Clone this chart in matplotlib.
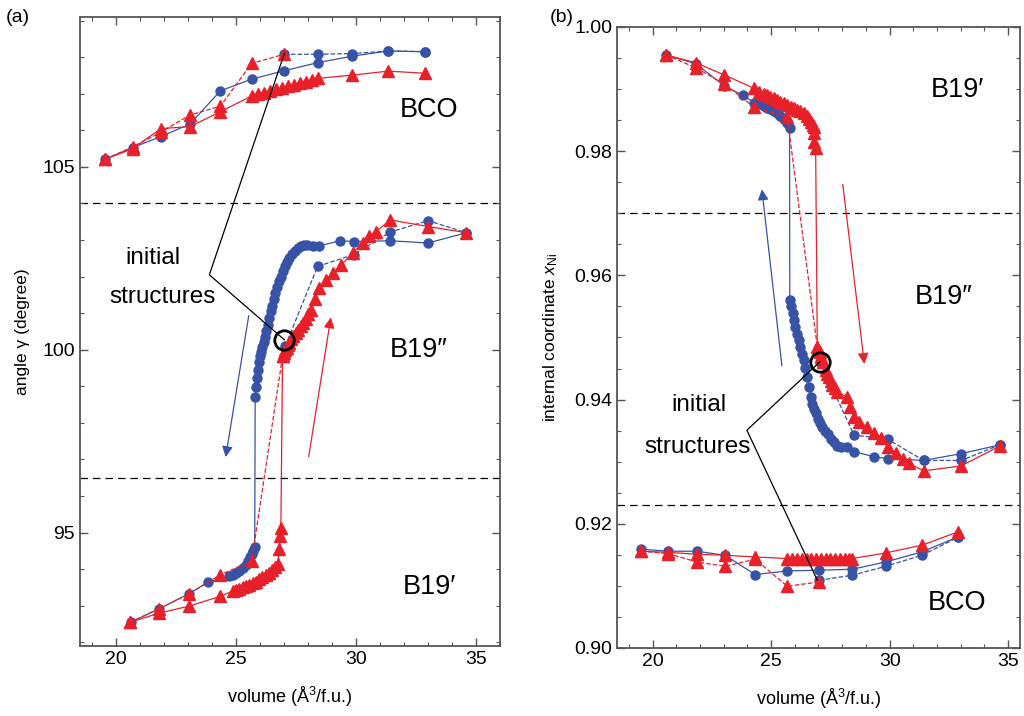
import numpy as np
import matplotlib.pyplot as plt
from matplotlib.ticker import MultipleLocator

plt.rcParams['font.family'] = ['Liberation Sans', 'DejaVu Sans']
plt.rcParams['mathtext.fontset'] = 'custom'
plt.rcParams['mathtext.rm'] = 'Liberation Sans'
plt.rcParams['mathtext.it'] = 'Liberation Sans:italic'

BLUE = '#3753a6'
RED = '#e8202a'

# ---------------- panel (a): angle gamma ----------------
# BCO branch
a_bco_blue_x = [19.55, 20.7, 21.87, 23.08, 24.35, 25.65, 27.01, 28.4, 29.85, 31.35, 32.87]
a_bco_blue_y = [105.21, 105.53, 105.83, 106.17, 107.08, 107.4, 107.63, 107.85, 108.03, 108.17, 108.15]
a_bco_blue_dash_x = [27.01, 28.4, 29.85, 31.35, 32.87]
a_bco_blue_dash_y = [108.08, 108.08, 108.1, 108.17, 108.15]
a_bco_red_dash_x = [19.55, 20.7, 21.87, 23.08, 24.35, 25.65, 27.01]
a_bco_red_dash_y = [105.21, 105.55, 105.95, 106.42, 106.66, 107.83, 108.08]
a_bco_red_x = [19.55, 20.7, 21.87, 23.08, 24.35, 25.65, 25.9, 26.15, 26.4, 26.65, 26.9,
               27.15, 27.4, 27.65, 27.9, 28.15, 28.4, 29.85, 31.35, 32.87]
a_bco_red_y = [105.21, 105.5, 106.05, 106.1, 106.51, 106.94, 106.98, 107.03, 107.07, 107.12, 107.16,
               107.2, 107.25, 107.29, 107.33, 107.38, 107.42, 107.51, 107.62, 107.56]

# B19' -> B19'' branch, compression (blue)
a_blue_x = [20.62, 21.8, 23.05, 23.82, 24.72, 24.86, 25.0, 25.14, 25.28, 25.4, 25.49, 25.58,
            25.66, 25.72, 25.78,
            25.80, 25.84, 25.88, 25.92, 25.96, 26.00, 26.05, 26.10, 26.15, 26.20, 26.26, 26.32,
            26.38, 26.44, 26.50, 26.57, 26.64, 26.71, 26.78, 26.86, 26.94, 27.03, 27.12, 27.22,
            27.33, 27.45, 27.58, 27.72, 27.85, 27.95, 28.19, 28.47, 29.33, 29.9, 31.43, 33.0, 34.6]
a_blue_y = [92.55, 92.92, 93.33, 93.64, 93.81, 93.85, 93.9, 93.96, 94.04, 94.12, 94.22, 94.32,
            94.42, 94.5, 94.6,
            98.72, 98.98, 99.22, 99.45, 99.66, 99.83, 99.95, 100.08, 100.21, 100.34, 100.5, 100.67,
            100.87, 101.05, 101.21, 101.39, 101.55, 101.71, 101.87, 102.0, 102.14, 102.29, 102.41, 102.52,
            102.62, 102.71, 102.78, 102.83, 102.86, 102.87, 102.84, 102.84, 102.98, 102.96, 102.98, 102.92, 103.2]
a_blue_dash_x = [27.05, 28.4, 29.9, 31.43, 33.0, 34.6]
a_blue_dash_y = [100.1, 102.28, 102.6, 103.22, 103.53, 103.2]

# expansion (red)
a_red_x = [20.6, 21.8, 23.05, 24.35, 24.86, 25.0, 25.14, 25.28, 25.42, 25.56, 25.7, 25.84, 25.97,
           26.1, 26.24, 26.39, 26.52, 26.64, 26.74, 26.8, 26.85, 26.87,
           26.94, 27.0, 27.06, 27.12, 27.18, 27.22, 27.3, 27.38, 27.5, 27.6, 27.7, 27.78, 27.9,
           28.02, 28.13, 28.3, 28.47, 28.75, 29.03, 29.38, 29.86, 30.28, 30.55, 30.83, 31.43, 33.0, 34.6]
a_red_y = [92.55, 92.8, 92.99, 93.26, 93.4, 93.43, 93.47, 93.5, 93.53, 93.57, 93.61, 93.66, 93.72,
           93.78, 93.84, 93.9, 93.97, 94.05, 94.13, 94.54, 94.9, 95.13,
           99.82, 99.9, 99.98, 100.06, 100.13, 100.18, 100.29, 100.38, 100.46, 100.55, 100.64, 100.73, 100.85,
           100.97, 101.09, 101.4, 101.69, 101.91, 102.1, 102.32, 102.64, 102.93, 103.1, 103.23, 103.55, 103.37, 103.2]
a_red_dash_x = [20.6, 21.8, 23.05, 24.35, 25.65, 26.94]
a_red_dash_y = [92.55, 92.92, 93.33, 93.85, 94.22, 99.82]

# ---------------- panel (b): internal coordinate x_Ni ----------------
b_blue_x = [20.56, 21.82, 23.03, 23.81, 24.29, 24.5, 24.69, 24.84, 24.97, 25.11, 25.25, 25.39,
            25.53, 25.66, 25.78,
            25.79, 25.85, 25.91, 25.96, 26.03, 26.10, 26.17, 26.24, 26.31, 26.38, 26.45, 26.53,
            26.60, 26.67, 26.74, 26.81, 26.88, 26.97, 27.06, 27.16, 27.27, 27.39, 27.51, 27.65,
            27.80, 27.95, 28.19, 28.50, 29.35, 29.92, 31.44, 33.02, 34.64]
b_blue_y = [0.9955, 0.9941, 0.9905, 0.9890, 0.9878, 0.9876, 0.98727, 0.9870, 0.98674, 0.98645, 0.9861, 0.9857,
            0.98513, 0.9845, 0.9838,
            0.9560, 0.9550, 0.9539, 0.9528, 0.9517, 0.9506, 0.9496, 0.9485, 0.9474, 0.9464, 0.9451, 0.9437,
            0.9421, 0.9404, 0.9393, 0.9385, 0.9378, 0.9369, 0.9362, 0.9356, 0.9350, 0.9344, 0.9337, 0.9331,
            0.9326, 0.9324, 0.9324, 0.9316, 0.9308, 0.9305, 0.9302, 0.9313, 0.9327]
b_blue_dash_x = [27.06, 28.5, 29.92, 31.44, 33.02, 34.64]
b_blue_dash_y = [0.9461, 0.9343, 0.9336, 0.9302, 0.9302, 0.9327]

b_red_x = [20.56, 21.82, 23.03, 24.29, 24.5, 24.7, 24.83, 24.97, 25.11, 25.25, 25.39, 25.54, 25.68,
           25.82, 25.96, 26.1, 26.24, 26.38, 26.52, 26.62, 26.7, 26.77, 26.81, 26.8, 26.81, 26.88,
           26.95, 27.05, 27.12, 27.2, 27.3, 27.37, 27.44, 27.51, 27.58, 27.69, 27.8, 28.19, 28.35,
           28.5, 28.71, 29.04, 29.35, 29.63, 29.92, 30.27, 30.55, 30.83, 31.44, 33.02, 34.64]
b_red_y = [0.9955, 0.99425, 0.99227, 0.99012, 0.9896, 0.98925, 0.98905, 0.98875, 0.9885, 0.98825, 0.98797,
           0.9877, 0.9874, 0.98715, 0.9869, 0.98665, 0.9864, 0.9861, 0.98565, 0.9852, 0.9847, 0.9842,
           0.98394, 0.98287, 0.98152, 0.98046,
           0.9485, 0.9476, 0.9469, 0.946, 0.94474, 0.9442, 0.94366, 0.943, 0.94232, 0.9418, 0.94125,
           0.94044, 0.9388, 0.93722, 0.93641, 0.93561, 0.93454, 0.93374, 0.93238, 0.93132, 0.93051,
           0.92971, 0.92852, 0.92932, 0.9325]
b_red_dash_x = [20.56, 21.82, 23.03, 24.29, 25.68, 26.95]
b_red_dash_y = [0.9955, 0.99345, 0.99082, 0.98706, 0.98555, 0.9485]

b_bco_blue_x = [19.53, 20.66, 21.86, 23.06, 24.33, 25.68, 27.02, 28.43, 29.84, 31.36, 32.88]
b_bco_blue_y = [0.9159, 0.91558, 0.91558, 0.91493, 0.91182, 0.91241, 0.91252, 0.91268, 0.91386, 0.91547, 0.91788]
b_bco_blue_dash_x = [27.02, 28.43, 29.84, 31.36, 32.88]
b_bco_blue_dash_y = [0.91091, 0.91171, 0.91316, 0.91493, 0.9178]
b_bco_red_dash_x = [19.53, 20.66, 21.86, 23.06, 24.33, 25.68, 27.02]
b_bco_red_dash_y = [0.91558, 0.9152, 0.91386, 0.91316, 0.91429, 0.90994, 0.91063]
b_bco_red_x = [19.53, 20.66, 21.86, 23.06, 24.33, 25.68, 25.9, 26.1, 26.3, 26.5, 26.7, 26.9, 27.1,
               27.3, 27.5, 27.7, 27.9, 28.1, 28.3, 28.43, 29.84, 31.36, 32.88]
b_bco_red_y = [0.91558, 0.9154, 0.9151, 0.91493, 0.91466, 0.9144, 0.9144, 0.9144, 0.9144, 0.9144, 0.9144,
               0.9144, 0.9144, 0.9144, 0.9144, 0.9144, 0.9144, 0.9144, 0.9144, 0.9144, 0.91531, 0.91655, 0.91869]


def blue(ax, x, y, ls='-'):
    ax.plot(x, y, ls, color=BLUE, lw=0.9, marker='o', ms=6.5, mec=BLUE, zorder=3)


def red(ax, x, y, ls='-'):
    ax.plot(x, y, ls, color=RED, lw=0.9, marker='^', ms=8.5, mec=RED, zorder=4)


def style(ax):
    for sp in ax.spines.values():
        sp.set_color('#555555')
        sp.set_linewidth(1.3)
    ax.tick_params(which='both', direction='in', top=True, right=True, color='#555555',
                   labelsize=14)
    ax.tick_params(which='major', length=6, width=1)
    ax.tick_params(which='minor', length=3, width=0.8)
    ax.xaxis.set_major_locator(MultipleLocator(5))
    ax.xaxis.set_minor_locator(MultipleLocator(1))
    ax.set_xlabel('volume (Å$^3$/f.u.)', fontsize=13, labelpad=12)


fig = plt.figure(figsize=(10.24, 7.16), dpi=100)
axa = fig.add_axes([0.0781, 0.0978, 0.4102, 0.8785])
axb = fig.add_axes([0.6025, 0.0950, 0.3936, 0.8673])

# panel (a)
axa.axhline(104.0, color='black', ls=(0, (6, 4)), lw=0.9, zorder=1)
axa.axhline(96.5, color='black', ls=(0, (6, 4)), lw=0.9, zorder=1)
blue(axa, a_bco_blue_x, a_bco_blue_y)
blue(axa, a_bco_blue_dash_x, a_bco_blue_dash_y, '--')
blue(axa, a_blue_x, a_blue_y)
blue(axa, a_blue_dash_x, a_blue_dash_y, '--')
red(axa, a_bco_red_dash_x, a_bco_red_dash_y, '--')
red(axa, a_bco_red_x, a_bco_red_y)
red(axa, a_red_x, a_red_y)
red(axa, a_red_dash_x, a_red_dash_y, '--')
axa.plot([27.02], [100.27], 'o', ms=14, mfc='none', mec='black', mew=2, zorder=6)
axa.plot([27.02, 23.89, 27.02], [108.11, 102.05, 100.27], color='black', lw=0.9, zorder=5)
axa.annotate('', xy=(24.55, 96.99), xytext=(25.55, 101.01),
             arrowprops=dict(arrowstyle='-|>', color=BLUE, lw=0.9, mutation_scale=16))
axa.annotate('', xy=(28.97, 100.96), xytext=(28.01, 97.0),
             arrowprops=dict(arrowstyle='-|>', color=RED, lw=0.9, mutation_scale=16))
axa.text(21.55, 102.52, 'initial', fontsize=17.5, ha='center', va='center')
axa.text(21.95, 101.43, 'structures', fontsize=17.5, ha='center', va='center')
axa.text(33.05, 106.56, 'BCO', fontsize=19.5, ha='center', va='center')
axa.text(32.6, 100.0, 'B19″', fontsize=19.5, ha='center', va='center')
axa.text(33.05, 93.5, 'B19′', fontsize=19.5, ha='center', va='center')
axa.set_xlim(18.5, 36.0)
axa.set_ylim(91.9, 109.1)
style(axa)
axa.yaxis.set_major_locator(MultipleLocator(5))
axa.yaxis.set_minor_locator(MultipleLocator(1))
axa.set_ylabel('angle γ (degree)', fontsize=12.5, labelpad=9)

# panel (b)
axb.axhline(0.970, color='black', ls=(0, (6, 4)), lw=0.9, zorder=1)
axb.axhline(0.923, color='black', ls=(0, (6, 4)), lw=0.9, zorder=1)
blue(axb, b_blue_x, b_blue_y)
blue(axb, b_blue_dash_x, b_blue_dash_y, '--')
blue(axb, b_bco_blue_x, b_bco_blue_y)
blue(axb, b_bco_blue_dash_x, b_bco_blue_dash_y, '--')
red(axb, b_red_x, b_red_y)
red(axb, b_red_dash_x, b_red_dash_y, '--')
red(axb, b_bco_red_dash_x, b_bco_red_dash_y, '--')
red(axb, b_bco_red_x, b_bco_red_y)
axb.plot([27.06], [0.94608], 'o', ms=14, mfc='none', mec='black', mew=2, zorder=6)
axb.plot([27.06, 23.98, 26.95], [0.94608, 0.93507, 0.91092], color='black', lw=0.9, zorder=5)
axb.annotate('', xy=(24.6, 0.9743), xytext=(25.47, 0.9450),
             arrowprops=dict(arrowstyle='-|>', color=BLUE, lw=0.9, mutation_scale=16))
axb.annotate('', xy=(28.95, 0.9453), xytext=(28.01, 0.9751),
             arrowprops=dict(arrowstyle='-|>', color=RED, lw=0.9, mutation_scale=16))
axb.text(21.95, 0.9392, 'initial', fontsize=17.5, ha='center', va='center')
axb.text(21.9, 0.9324, 'structures', fontsize=17.5, ha='center', va='center')
axb.text(32.84, 0.9898, 'B19′', fontsize=19.5, ha='center', va='center')
axb.text(32.3, 0.9565, 'B19″', fontsize=19.5, ha='center', va='center')
axb.text(32.84, 0.9072, 'BCO', fontsize=19.5, ha='center', va='center')
axb.set_xlim(18.5, 35.5)
axb.set_ylim(0.90, 1.00)
style(axb)
axb.yaxis.set_major_locator(MultipleLocator(0.02))
axb.yaxis.set_minor_locator(MultipleLocator(0.005))
axb.yaxis.set_major_formatter(plt.FormatStrFormatter('%.2f'))
axb.set_ylabel('internal coordinate $x_{\\rm Ni}$', fontsize=12.5, labelpad=10)

fig.text(18 / 1024, 1 - 17 / 716, '(a)', fontsize=14, ha='center', va='center')
fig.text(562 / 1024, 1 - 17 / 716, '(b)', fontsize=14, ha='center', va='center')

fig.savefig('out.png', dpi=100)
